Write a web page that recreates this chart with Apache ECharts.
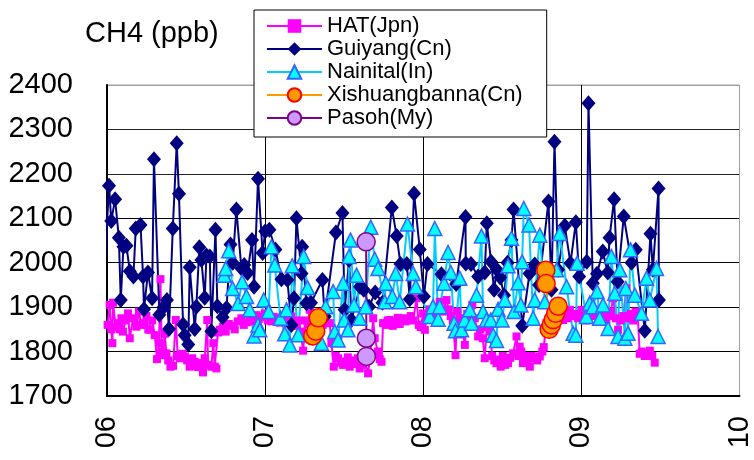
<!DOCTYPE html>
<html>
<head>
<meta charset="utf-8">
<script src="https://cdn.jsdelivr.net/npm/echarts@6/dist/echarts.min.js"></script>
<style>
  html, body { margin: 0; padding: 0; background: #fff; }
  #chart { width: 754px; height: 460px; }
</style>
</head>
<body>
<div id="chart"></div>
<script>
// CH4 mixing ratios (ppb) at five Asian sites, time as decimal year.
const yearLabels = ['06', '07', '08', '09', '10'];
const seriesNames = ['HAT(Jpn)', 'Guiyang(Cn)', 'Nainital(In)', 'Xishuangbanna(Cn)', 'Pasoh(My)'];

// records from late December 2005 (drawn without markers)
const hatLead = [[2005.943, 1909], [2005.965, 1856]];
const guiyangLead = [[2005.943, 2056], [2005.975, 1924]];

const hat = [
  [2006.004,1860],[2006.017,1905],[2006.027,1850],[2006.034,1819],[2006.038,1910],[2006.055,1855],[2006.070,1864],[2006.080,1850],
  [2006.091,1875],[2006.101,1845],[2006.118,1870],[2006.133,1886],[2006.144,1830],[2006.165,1875],[2006.186,1856],[2006.202,1890],
  [2006.216,1860],[2006.228,1864],[2006.249,1880],[2006.261,1850],[2006.270,1849],[2006.286,1870],[2006.302,1837],[2006.316,1783],
  [2006.329,1819],[2006.338,1963],[2006.346,1800],[2006.354,1792],[2006.365,1840],[2006.376,1796],[2006.387,1780],[2006.401,1766],
  [2006.418,1768],[2006.435,1871],[2006.447,1790],[2006.460,1785],[2006.476,1795],[2006.492,1789],[2006.507,1780],[2006.523,1766],
  [2006.539,1785],[2006.555,1777],[2006.566,1768],[2006.576,1765],[2006.597,1774],[2006.607,1753],[2006.618,1785],[2006.634,1871],
  [2006.639,1770],[2006.660,1766],[2006.672,1819],[2006.681,1766],[2006.692,1762],[2006.702,1843],[2006.713,1849],[2006.724,1849],
  [2006.734,1856],[2006.751,1845],[2006.770,1862],[2006.789,1858],[2006.808,1850],[2006.827,1868],[2006.850,1875],[2006.865,1860],
  [2006.884,1866],[2006.903,1871],[2006.922,1868],[2006.945,1882],[2006.960,1873],[2006.979,1878],[2006.998,1886],[2007.016,1870],
  [2007.040,1868],[2007.054,1878],[2007.073,1875],[2007.092,1865],[2007.113,1875],[2007.130,1868],[2007.149,1872],[2007.166,1879],
  [2007.181,1862],[2007.198,1858],[2007.213,1870],[2007.225,1845],[2007.240,1802],[2007.257,1870],[2007.269,1862],[2007.282,1894],
  [2007.301,1875],[2007.325,1864],[2007.345,1870],[2007.364,1860],[2007.383,1866],[2007.409,1864],[2007.419,1819],[2007.434,1766],
  [2007.447,1790],[2007.461,1785],[2007.478,1775],[2007.493,1770],[2007.510,1778],[2007.523,1787],[2007.535,1766],[2007.554,1780],
  [2007.573,1772],[2007.586,1785],[2007.598,1762],[2007.617,1770],[2007.630,1778],[2007.651,1751],[2007.665,1790],[2007.683,1875],
  [2007.693,1830],[2007.712,1800],[2007.725,1783],[2007.736,1777],[2007.746,1864],[2007.763,1860],[2007.775,1870],[2007.788,1871],
  [2007.807,1858],[2007.820,1866],[2007.839,1876],[2007.851,1862],[2007.872,1875],[2007.889,1868],[2007.908,1872],[2007.921,1880],
  [2007.937,1870],[2007.957,1920],[2007.972,1860],[2007.984,1855],[2007.999,1886],[2008.010,1849],[2008.025,1880],[2008.041,1895],
  [2008.060,1885],[2008.073,1886],[2008.089,1900],[2008.104,1912],[2008.123,1890],[2008.147,1916],[2008.161,1895],[2008.174,1880],
  [2008.187,1870],[2008.204,1792],[2008.215,1890],[2008.231,1875],[2008.244,1860],[2008.263,1815],[2008.278,1885],[2008.294,1866],
  [2008.310,1905],[2008.326,1875],[2008.347,1834],[2008.361,1850],[2008.376,1830],[2008.389,1785],[2008.402,1855],[2008.421,1845],
  [2008.436,1790],[2008.449,1780],[2008.463,1774],[2008.478,1782],[2008.490,1766],[2008.503,1790],[2008.519,1770],[2008.536,1774],
  [2008.550,1786],[2008.568,1796],[2008.590,1834],[2008.601,1790],[2008.610,1811],[2008.620,1800],[2008.631,1774],[2008.642,1790],
  [2008.655,1778],[2008.674,1766],[2008.686,1790],[2008.705,1785],[2008.721,1780],[2008.737,1789],[2008.753,1800],[2008.762,1810],
  [2008.779,1864],[2008.794,1860],[2008.806,1855],[2008.821,1849],[2008.838,1862],[2008.854,1870],[2008.870,1880],[2008.884,1871],
  [2008.901,1885],[2008.914,1875],[2008.927,1894],[2008.942,1880],[2008.958,1885],[2008.977,1875],[2009.001,1894],[2009.015,1885],
  [2009.031,1870],[2009.047,1890],[2009.064,1901],[2009.078,1880],[2009.094,1890],[2009.110,1877],[2009.126,1895],[2009.142,1885],
  [2009.158,1870],[2009.173,1880],[2009.186,1890],[2009.201,1920],[2009.218,1875],[2009.232,1849],[2009.249,1870],[2009.265,1880],
  [2009.285,1942],[2009.300,1875],[2009.313,1885],[2009.328,1870],[2009.344,1890],[2009.357,1880],[2009.369,1795],[2009.382,1800],
  [2009.390,1797],[2009.401,1790],[2009.414,1795],[2009.433,1802],[2009.448,1790],[2009.464,1775]
];

const guiyang = [
  [2006.013,2173],[2006.027,2094],[2006.051,2143],[2006.075,2056],[2006.087,1916],[2006.104,2036],[2006.123,2038],[2006.144,1981],
  [2006.167,1969],[2006.182,2077],[2006.212,2085],[2006.228,1969],[2006.234,1895],[2006.259,1978],[2006.285,1920],[2006.297,2233],
  [2006.331,1883],[2006.356,1899],[2006.379,1916],[2006.392,1851],[2006.416,2077],[2006.441,2269],[2006.455,2155],[2006.481,1861],
  [2006.491,1837],[2006.514,1816],[2006.523,1990],[2006.555,1851],[2006.565,1901],[2006.584,2035],[2006.597,2006],[2006.618,1921],
  [2006.629,2016],[2006.650,2014],[2006.660,1846],[2006.686,2074],[2006.698,1902],[2006.731,1877],[2006.756,1898],[2006.781,2041],
  [2006.795,2000],[2006.818,2120],[2006.850,1987],[2006.868,1995],[2006.889,1977],[2006.917,2051],[2006.930,1946],[2006.955,2189],
  [2006.984,2022],[2007.001,2071],[2007.027,2074],[2007.065,2030],[2007.103,1963],[2007.141,1961],[2007.166,1860],[2007.183,1920],
  [2007.198,2100],[2007.230,1976],[2007.234,2036],[2007.261,1909],[2007.290,1910],[2007.362,1961],[2007.377,1879],[2007.448,2068],
  [2007.489,2112],[2007.503,1894],[2007.531,2006],[2007.546,1871],[2007.600,1946],[2007.624,1939],[2007.658,1901],[2007.696,1933],
  [2007.742,1910],[2007.801,2124],[2007.832,2060],[2007.856,1997],[2007.896,1997],[2007.915,1918],[2007.942,2156],[2007.978,2030],
  [2008.004,1924],[2008.027,1997],[2008.115,1974],[2008.208,1952],[2008.267,2103],[2008.269,1998],[2008.302,1997],[2008.347,1969],
  [2008.389,1978],[2008.402,2089],[2008.429,2002],[2008.448,1939],[2008.465,1985],[2008.487,1967],[2008.511,1927],[2008.533,2000],
  [2008.558,2051],[2008.571,2120],[2008.626,1858],[2008.672,1976],[2008.705,1996],[2008.732,1950],[2008.792,2138],[2008.811,1939],
  [2008.830,2272],[2008.853,1984],[2008.895,2083],[2008.931,1999],[2008.965,2091],[2008.986,1969],[2009.034,2002],[2009.045,2359],
  [2009.072,1954],[2009.099,1975],[2009.135,2025],[2009.167,1978],[2009.178,2056],[2009.207,2143],[2009.229,1957],[2009.268,2104],
  [2009.317,2000],[2009.344,2029],[2009.401,1847],[2009.437,2065],[2009.452,1984],[2009.488,2167],[2009.490,1916]
];

const nainital = [
  [2006.741,1972],[2006.751,1987],[2006.770,2027],[2006.794,1942],[2006.829,1908],[2006.855,1957],[2006.882,1924],[2006.903,1894],
  [2006.930,1835],[2006.955,1860],[2006.966,1849],[2006.991,1916],[2007.022,1890],[2007.040,2036],[2007.061,1995],[2007.097,1875],
  [2007.124,1840],[2007.135,1894],[2007.156,1815],[2007.171,1993],[2007.209,1838],[2007.244,2014],[2007.268,1944],[2007.356,1819],
  [2007.383,1901],[2007.430,1935],[2007.440,1845],[2007.461,1826],[2007.493,1954],[2007.500,1871],[2007.524,1849],[2007.531,2014],
  [2007.540,2051],[2007.562,1905],[2007.578,1972],[2007.598,1875],[2007.636,1901],[2007.668,2080],[2007.693,2008],[2007.714,1987],
  [2007.757,1912],[2007.763,1954],[2007.805,1924],[2007.826,1976],[2007.851,1912],[2007.900,2087],[2007.936,1976],[2007.953,1946],
  [2008.041,1879],[2008.062,1901],[2008.073,2077],[2008.094,1873],[2008.104,1901],[2008.132,1954],[2008.157,2023],[2008.174,1978],
  [2008.195,1864],[2008.204,1847],[2008.231,1965],[2008.242,1849],[2008.263,1871],[2008.294,1894],[2008.305,1864],[2008.337,1927],
  [2008.368,2060],[2008.378,1890],[2008.400,1871],[2008.427,1871],[2008.442,1837],[2008.463,1825],[2008.473,1895],[2008.498,1871],
  [2008.516,1916],[2008.536,1993],[2008.558,2055],[2008.574,1890],[2008.600,1955],[2008.617,1905],[2008.625,2002],[2008.636,2122],
  [2008.669,2085],[2008.695,1875],[2008.705,1916],[2008.737,2062],[2008.769,1912],[2008.843,1984],[2008.863,2066],[2008.906,1946],
  [2008.948,1841],[2008.965,1837],[2008.973,1999],[2009.032,1879],[2009.053,1909],[2009.074,1901],[2009.099,1935],[2009.116,1875],
  [2009.137,1905],[2009.169,1852],[2009.190,2014],[2009.211,1931],[2009.232,1834],[2009.243,1984],[2009.275,1830],[2009.281,1942],
  [2009.295,1841],[2009.311,2029],[2009.338,1927],[2009.380,1886],[2009.412,1965],[2009.433,1916],[2009.475,1987],[2009.485,1834]
];

// two sampling campaigns; null separates them
const xishuangbanna = [
  [2007.301,1835],[2007.320,1846],[2007.336,1876],
  [2008.000,null],
  [2008.775,1983],[2008.777,1953],[2008.796,1850],[2008.810,1860],[2008.822,1872],[2008.838,1886],[2008.853,1902]
];

const pasoh = [[2007.639,2047],[2007.640,1830],[2007.641,1789]];

const FONT = "'Liberation Sans', Arial, sans-serif";

function toData(points, lead) {
  const out = (lead || []).map(p => ({ value: p, symbol: 'none' }));
  points.forEach(p => out.push(p[1] == null ? [p[0], '-'] : p));
  return out;
}

const chart = echarts.init(document.getElementById('chart'), null, { renderer: 'canvas' });

chart.setOption({
  animation: false,
  backgroundColor: '#ffffff',
  title: {
    text: 'CH4 (ppb)',
    left: 80,
    top: 14,
    textStyle: { fontFamily: FONT, fontSize: 29, fontWeight: 'normal', color: '#000' }
  },
  legend: {
    orient: 'vertical',
    left: 254,
    top: 10,
    data: seriesNames,
    backgroundColor: '#ffffff',
    borderColor: '#000',
    borderWidth: 1,
    borderRadius: 0,
    padding: [5, 24, 8, 12],
    itemWidth: 55,
    itemHeight: 17,
    itemGap: 1,
    textStyle: { fontFamily: FONT, fontSize: 22, color: '#000', lineHeight: 20 },
    z: 10
  },
  grid: {
    left: 107, right: 14, top: 85, bottom: 64,
    show: true, borderColor: '#a0a0a0', borderWidth: 1, backgroundColor: 'transparent'
  },
  xAxis: {
    type: 'value',
    min: 2006, max: 2010, interval: 1,
    axisLine: { show: true, onZero: false, lineStyle: { color: '#000', width: 2 } },
    axisTick: { show: false },
    axisLabel: {
      rotate: 90, margin: 20,
      fontFamily: FONT, fontSize: 29, color: '#000',
      formatter: v => yearLabels[Math.round(v - 2006)]
    },
    splitLine: { show: true, lineStyle: { color: ['#000', '#000', '#000', '#000', '#a0a0a0'], width: 1 } }
  },
  yAxis: {
    type: 'value',
    min: 1700, max: 2400, interval: 100,
    axisLine: { show: true, lineStyle: { color: '#000', width: 2 } },
    axisTick: { show: false },
    axisLabel: { margin: 34, fontFamily: FONT, fontSize: 29, color: '#000', formatter: v => String(v) },
    splitLine: {
      show: true,
      lineStyle: { color: ['#000', '#000', '#000', '#000', '#000', '#222', '#222', '#a0a0a0'], width: 1 }
    }
  },
  series: [
    {
      name: seriesNames[0], type: 'line', clip: false, showAllSymbol: true,
      data: toData(hat, hatLead),
      symbol: 'rect', symbolSize: 8,
      lineStyle: { color: '#ff00ff', width: 2 },
      itemStyle: { color: '#ff00ff' }
    },
    {
      name: seriesNames[1], type: 'line', clip: false, showAllSymbol: true,
      data: toData(guiyang, guiyangLead),
      symbol: 'diamond', symbolSize: [14, 16],
      lineStyle: { color: '#000080', width: 2 },
      itemStyle: { color: '#000080' }
    },
    {
      name: seriesNames[2], type: 'line', showAllSymbol: true,
      data: toData(nainital),
      symbol: 'triangle', symbolSize: 14,
      lineStyle: { color: '#00ccff', width: 2 },
      itemStyle: { color: '#00ffff', borderColor: '#3366ff', borderWidth: 1.5 }
    },
    {
      name: seriesNames[3], type: 'line', showAllSymbol: true, connectNulls: false,
      data: toData(xishuangbanna),
      symbol: 'circle', symbolSize: 18,
      lineStyle: { color: '#ff9900', width: 2 },
      itemStyle: { color: '#ff9900', borderColor: '#ff0000', borderWidth: 1.5 }
    },
    {
      name: seriesNames[4], type: 'line', showAllSymbol: true,
      data: toData(pasoh),
      symbol: 'circle', symbolSize: 18,
      lineStyle: { color: '#800080', width: 2 },
      itemStyle: { color: '#cc99ff', borderColor: '#800080', borderWidth: 1.5 }
    }
  ]
});
</script>
</body>
</html>
